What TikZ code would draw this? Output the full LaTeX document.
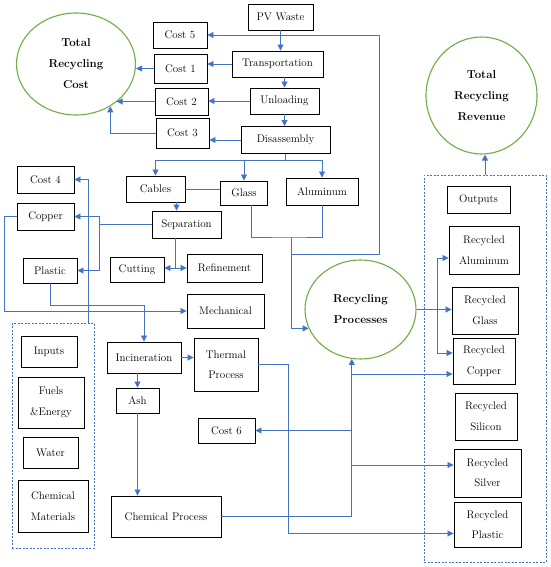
\documentclass[tikz,border=0pt]{standalone}
\usepackage{xcolor}
\usepackage{tikz}
\usetikzlibrary{positioning,calc,shapes.geometric,arrows.meta}
\definecolor{flowblue}{HTML}{4472C4}
\definecolor{goalgreen}{HTML}{70AD47}
\tikzset{
  % --- process, material and cost boxes ---
  box/.style={draw=black, line width=0.9pt, align=center, inner sep=1pt,
              font=\fontsize{11}{20.5}\selectfont},
  boxsize/.style 2 args={minimum width=#1, minimum height=#2},
  % --- totals and the central process (green ellipses) ---
  goal/.style={ellipse, draw=goalgreen, line width=1.1pt, align=center,
               inner sep=0pt, font=\bfseries\fontsize{11.5}{21}\selectfont},
  % --- dashed frames round inputs / outputs ---
  group/.style={draw=flowblue, line width=0.7pt, dash pattern=on 2pt off 1.5pt,
                inner sep=0pt},
  % --- connectors ---
  link/.style={draw=flowblue, line width=0.85pt},
  flow/.style={link, -{Triangle[length=6pt,width=6pt]}},
}

\begin{document}
\begin{tikzpicture}[x=1pt,y=-1pt]
  \useasboundingbox (0,0) rectangle (550,567);
  % process chain
  \node[box, boxsize={65}{26}] (pvwaste) at (280.5,17) {PV Waste};
  \node[box, boxsize={91}{26}] (transport) at (277.5,64) {Transportation};
  \node[box, boxsize={69}{26}] (unload) at (284.5,101) {Unloading};
  \node[box, boxsize={89}{27}] (disasm) at (285.5,140) {Disassembly};
  % costs
  \node[box, boxsize={54}{26}] (cost5) at (180,35) {Cost 5};
  \node[box, boxsize={53}{29}] (cost1) at (180.5,68.5) {Cost 1};
  \node[box, boxsize={53}{27}] (cost2) at (181.5,101.5) {Cost 2};
  \node[box, boxsize={53}{30}] (cost3) at (182.5,133) {Cost 3};
  \node[box, boxsize={57}{27}] (cost4) at (45.5,179.5) {Cost 4};
  \node[box, boxsize={57}{25}] (cost6) at (226.5,430.5) {Cost 6};
  \node[goal, minimum width=119, minimum height=102] (totcost) at (76,64)
    {Total\\Recycling\\Cost};
  % components and treatments
  \node[box, boxsize={59}{26}] (cables) at (155.5,189) {Cables};
  \node[box, boxsize={47}{24}] (glass) at (244,193) {Glass};
  \node[box, boxsize={72}{27}] (alum) at (322,191.5) {Aluminum};
  \node[box, boxsize={69}{27}] (separation) at (186.5,224.5) {Separation};
  \node[box, boxsize={57}{27}] (copper) at (45.5,216.5) {Copper};
  \node[box, boxsize={54}{25}] (plastic) at (50,270.5) {Plastic};
  \node[box, boxsize={54}{25}] (cutting) at (137,269.5) {Cutting};
  \node[box, boxsize={75}{28}] (refine) at (224.5,268) {Refinement};
  \node[box, boxsize={77}{34}] (mech) at (225.5,311) {Mechanical};
  \node[box, boxsize={74}{31}] (incin) at (144,357.5) {Incineration};
  \node[box, boxsize={64}{53}] (thermal) at (226,364.5) {Thermal\\Process};
  \node[box, boxsize={43}{25}] (ash) at (137.5,400.5) {Ash};
  \node[box, boxsize={110}{41}] (chem) at (166,516.5) {Chemical Process};
  % inputs
  \node[group, minimum width=82, minimum height=225] (inbox) at (53,435.5) {};
  \node[box, boxsize={56}{31}] (inputs) at (49,351.5) {Inputs};
  \node[box, boxsize={66}{51}] (fuels) at (51,402.5) {Fuels\\\&Energy};
  \node[box, boxsize={55}{31}] (water) at (50.5,452.5) {Water};
  \node[box, boxsize={70}{52}] (chemmat) at (53,506) {Chemical\\Materials};
  % recycling and outputs
  \node[goal, minimum width=111, minimum height=99] (recproc) at (360.5,309.5)
    {Recycling\\Processes};
  \node[goal, minimum width=111, minimum height=117] (revenue) at (481.5,95.5)
    {Total\\Recycling\\Revenue};
  \node[group, minimum width=122, minimum height=387] (outbox) at (485,368.5) {};
  \node[box, boxsize={63}{27}] (outputs) at (478.5,199.5) {Outputs};
  \node[box, boxsize={70}{48}] (ralum) at (484,250) {Recycled\\Aluminum};
  \node[box, boxsize={66}{47}] (rglass) at (485,310.5) {Recycled\\Glass};
  \node[box, boxsize={62}{46}] (rcopper) at (484,361) {Recycled\\Copper};
  \node[box, boxsize={62}{47}] (rsilicon) at (486,416.5) {Recycled\\Silicon};
  \node[box, boxsize={67}{48}] (rsilver) at (487.5,473) {Recycled\\Silver};
  \node[box, boxsize={67}{45}] (rplastic) at (487.5,524.5) {Recycled\\Plastic};

  % chain and its costs
  \draw[flow] (pvwaste) -- (pvwaste |- transport.north);
  \coordinate (pvjoin) at (pvwaste.south |- cost5.east);
  \draw[flow] (pvjoin) -- (cost5.east);
  \coordinate (loopc) at (379,254);
  \coordinate (galjoin) at (291,237);
  \draw[link] (pvjoin) -| (loopc) -- (loopc -| galjoin);
  \draw[flow] (transport.west) -- (transport.west -| cost1.east);
  \draw[flow] (cost1.west) -- (cost1.west -| totcost.east);
  \draw[flow] (unload.north |- transport.south) -- (unload.north);
  \draw[flow] (unload.west) -- (unload.west -| cost2.east);
  \draw[flow] (cost2.west) -- (cost2.west -| totcost.-43);
  \draw[flow] (unload.south) -- (unload.south |- disasm.north);
  \draw[flow] (disasm.west) -- (disasm.west -| cost3.east);
  \draw[flow] (cost3.west) -| (totcost.-51);
  % disassembly outputs
  \coordinate (dbus) at ($(disasm.south)+(0,6)$);
  \draw[link] (disasm.south) -- (dbus);
  \draw[flow] (dbus) -| (cables.north);
  \draw[flow] (dbus) -| (glass.north);
  \draw[flow] (dbus) -| (alum.north);
  \draw[link] (cables.east) -- (cables.east -| glass.west);
  \coordinate (sepin) at ($(cables.south)+(21,0)$);
  \draw[flow] (sepin) -- (sepin |- separation.north);
  \coordinate (sepout) at ($(separation.west)+(-52,0)$);
  \draw[flow] (separation.west) -- (sepout) |- (copper.east);
  \draw[flow] (sepout) |- (plastic.east);
  \coordinate (crsplit) at (175,268);
  \draw[link] (crsplit |- separation.south) -- (crsplit);
  \draw[flow] (crsplit) -- (crsplit -| cutting.east);
  \draw[flow] (crsplit) -- (crsplit -| refine.west);
  \draw[flow] ([xshift=35pt]inbox.north) |- (cost4.east);
  \draw[flow] (copper.west) -- ++(-12,0) |- (mech.west);
  \draw[flow] (plastic.south) -- ++(0,22) -| (incin.north);
  \draw[flow] (incin.east) -- (incin.east -| thermal.west);
  \draw[flow] (ash.north |- incin.south) -- (ash.north);
  \draw[flow] (ash.south) -- (ash.south |- chem.north);
  \draw[link] ([xshift=7pt]glass.south) |- (galjoin) -| (alum.south);
  \draw[flow] (galjoin) |- (recproc.200);
  % recycling processes to outputs
  \coordinate (rpsplit) at ($(recproc.east)!0.6!(rglass.west)$);
  \draw[flow] (recproc.east) -- (recproc.east -| rglass.west);
  \coordinate (alin) at ($(ralum.west)+(0,8)$);
  \coordinate (cuin) at ($(rcopper.west)+(0,-8)$);
  \draw[flow] (rpsplit) |- (alin);
  \draw[flow] (rpsplit) |- (cuin);
  % chemical and thermal streams
  \coordinate (rpx) at (recproc.260);
  \draw[flow] (chem.east) -| (rpx);
  \coordinate (cuin2) at ($(rcopper.west)+(0,13)$);
  \coordinate (agin) at ($(rsilver.west)+(0,-8)$);
  \draw[flow] (cuin2 -| rpx) -- (cuin2);
  \draw[flow] (cost6.east -| rpx) -- (cost6.east);
  \draw[flow] (agin -| rpx) -- (agin);
  \coordinate (plin) at ($(rplastic.west)+(0,9)$);
  \draw[flow] (thermal.east) -- ++(30,0) |- (plin);
  \draw[flow] (outbox.north) -- (outbox.north |- revenue.south);
\end{tikzpicture}
\end{document}
